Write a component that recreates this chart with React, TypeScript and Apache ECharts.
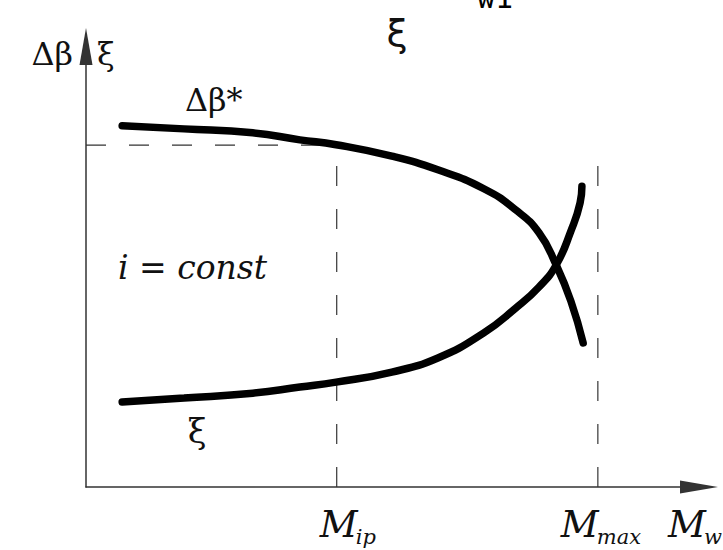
import React, { useEffect, useRef } from "react";
import * as echarts from "echarts";

const SERIF = "DejaVu Serif";

// Load torque M_w (relative units) at which the Δβ* characteristic is sampled
const mwDeltaBeta = [0.59, 1.6, 2.72, 3.49, 4.08, 4.99, 5.74, 6.49, 7.01, 7.39, 7.67, 7.91, 8.11];
// Δβ* characteristic (falling)
const deltaBeta = [8.2, 8.13, 8.04, 7.88, 7.77, 7.51, 7.2, 6.77, 6.29, 5.77, 5.04, 4.22, 3.27];

// Load torque M_w at which the ξ characteristic is sampled
const mwXi = [0.59, 1.6, 2.72, 3.49, 4.08, 4.99, 5.74, 6.49, 7.01, 7.39, 7.67, 7.91, 8.06, 8.09];
// ξ characteristic (rising)
const xi = [1.93, 2.02, 2.13, 2.27, 2.38, 2.61, 2.93, 3.5, 4.06, 4.54, 5.04, 5.81, 6.45, 6.83];

// Marked operating points on the M_w axis
const mIp = 4.09;
const mMax = 8.35;
const deltaBetaAtIp = 7.76;
const mMaxGuideTop = 7.67;

const zip = (xs: number[], ys: number[]) => xs.map((x, i) => [x, ys[i]]);

const dashed = {
  color: "#333",
  width: 1.2,
  type: [20, 23] as number[],
};

const plain = (
  text: string,
  x: number,
  y: number,
  size: number,
  family: string,
  align = "left",
  italic = false
) => ({
  type: "text",
  x,
  y,
  z: 10,
  style: {
    text,
    fontFamily: family,
    fontSize: size,
    fontStyle: italic ? "italic" : "normal",
    fill: "#111",
    align,
    verticalAlign: "middle",
  },
});

export default function App() {
  const ref = useRef<HTMLDivElement>(null);

  useEffect(() => {
    if (!ref.current) return;
    const chart = echarts.init(ref.current, null, { renderer: "svg" });

    const axisBase = {
      type: "value" as const,
      min: 0,
      max: 10,
      axisTick: { show: false },
      axisLabel: { show: false },
      splitLine: { show: false },
    };

    chart.setOption({
      animation: false,
      backgroundColor: "#fff",
      grid: { left: 86, right: 24, top: 46.5, bottom: 63 },
      xAxis: {
        ...axisBase,
        axisLine: {
          show: true,
          symbol: ["none", "triangle"],
          symbolSize: [13, 38],
          lineStyle: { color: "#333", width: 1.5 },
        },
      },
      yAxis: {
        ...axisBase,
        axisLine: {
          show: true,
          symbol: ["none", "triangle"],
          symbolSize: [13, 37],
          lineStyle: { color: "#333", width: 1.5 },
        },
      },
      series: [
        { type: "line", data: [[0, deltaBetaAtIp], [mIp, deltaBetaAtIp]], showSymbol: false, lineStyle: dashed, z: 1 },
        { type: "line", data: [[mIp, 0], [mIp, deltaBetaAtIp]], showSymbol: false, lineStyle: dashed, z: 1 },
        { type: "line", data: [[mMax, 0], [mMax, mMaxGuideTop]], showSymbol: false, lineStyle: dashed, z: 1 },
        {
          name: "Δβ*",
          type: "line",
          data: zip(mwDeltaBeta, deltaBeta),
          smooth: true,
          showSymbol: false,
          lineStyle: { color: "#000", width: 7.5, cap: "round" },
          z: 3,
        },
        {
          name: "ξ",
          type: "line",
          data: zip(mwXi, xi),
          smooth: true,
          showSymbol: false,
          lineStyle: { color: "#000", width: 7.5, cap: "round" },
          z: 3,
        },
      ],
    });

    const [ipX, axisY] = chart.convertToPixel({ gridIndex: 0 }, [mIp, 0]) as number[];
    const [maxX] = chart.convertToPixel({ gridIndex: 0 }, [mMax, 0]) as number[];
    const [endX] = chart.convertToPixel({ gridIndex: 0 }, [10, 0]) as number[];

    // italic M followed by a lowered, smaller subscript
    const mName = (left: number, sub: string) => [
      plain("M", left, axisY + 37, 37, SERIF, "left", true),
      plain(sub, left + 36, axisY + 50, 21, SERIF, "left", true),
    ];

    chart.setOption({
      graphic: [
        // heading fragment at the top of the figure
        plain("ξ", 397, 33, 38, "DejaVu Sans", "center"),
        {
          type: "text",
          x: 495,
          y: 12,
          style: { text: "w1", font: "30px 'DejaVu Sans Mono'", fill: "#000", align: "center", verticalAlign: "bottom" },
        },
        // axis titles beside the vertical arrow
        plain("Δβ", 73, 54, 32, SERIF, "right"),
        plain("ξ", 97, 54, 32, SERIF),
        // curve captions
        plain("Δβ*", 185, 100, 32, SERIF),
        plain("ξ", 197, 431, 34, SERIF, "center"),
        plain("i = const", 118, 267, 33, SERIF, "left", true),
        ...mName(ipX - 17, "ip"),
        ...mName(maxX - 37, "max"),
        ...mName(endX - 31, "w"),
      ],
    });

    return () => chart.dispose();
  }, []);

  return (
    <div
      ref={ref}
      style={{ position: "absolute", left: 0, top: 0, width: 723, height: 550, background: "#fff" }}
    />
  );
}
